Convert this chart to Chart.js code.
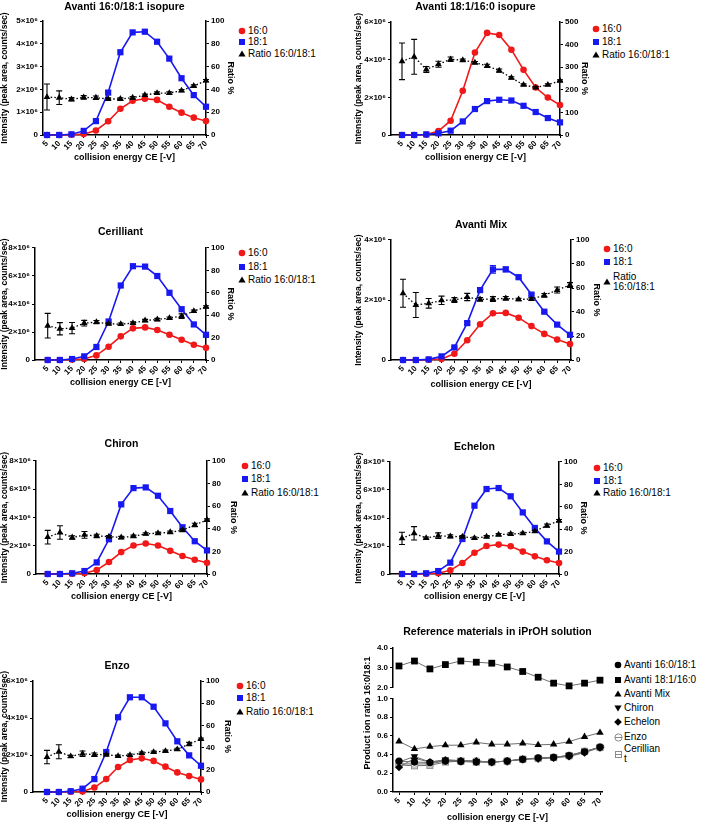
<!DOCTYPE html>
<html>
<head>
<meta charset="utf-8">
<script src="https://cdn.jsdelivr.net/npm/chart.js@4.4.1/dist/chart.umd.min.js"></script>
<style>
  html, body { margin: 0; padding: 0; background: #fff; }
  body { width: 709px; height: 823px; position: relative; overflow: hidden; font-family: 'Liberation Sans', Arial, sans-serif; }
  canvas { position: absolute; }
  .lg { position: absolute; font-size: 10px; line-height: 10px; color: #000; white-space: nowrap; }
</style>
</head>
<body>
<script>
// collision energies (x axis)
const ce = [5, 10, 15, 20, 25, 30, 35, 40, 45, 50, 55, 60, 65, 70];

// intensities in 10^6 counts/sec, ratios in %
const isoA_160 = [0, 0, 0.01, 0.04, 0.2, 0.6, 1.15, 1.5, 1.59, 1.54, 1.24, 0.98, 0.76, 0.61];
const isoA_181 = [0, 0, 0.03, 0.18, 0.61, 1.86, 3.63, 4.5, 4.53, 4.09, 3.35, 2.49, 1.75, 1.24];
const isoA_ratio = [33.3, 32.7, 31.3, 33, 32.7, 31.6, 31.6, 32.7, 35, 36.8, 36.8, 38.9, 43, 47.7];
const isoA_ratioErr = [11.4, 6, 1.5, 1.5, 1.5, 1, 1, 1, 1, 1, 1, 1, 1, 1];

const isoB_160 = [0, 0, 0.02, 0.21, 0.76, 2.35, 4.38, 5.42, 5.31, 4.53, 3.46, 2.52, 1.99, 1.59];
const isoB_181 = [0, 0, 0.03, 0.09, 0.23, 0.72, 1.38, 1.8, 1.87, 1.83, 1.55, 1.22, 0.9, 0.67];
const isoB_ratio = [326, 346, 290, 313, 335, 331, 320, 306, 285, 253, 222, 210, 222, 240];
const isoB_ratioErr = [81, 77, 13, 13, 10, 5, 5, 7, 7, 5, 4, 4, 4, 4];

const ceril_160 = [0, 0, 0.03, 0.07, 0.33, 0.95, 1.69, 2.26, 2.33, 2.14, 1.8, 1.45, 1.09, 0.88];
const ceril_181 = [0, 0, 0.07, 0.26, 0.93, 2.75, 5.32, 6.7, 6.67, 6.0, 4.8, 3.63, 2.54, 1.8];
const ceril_ratio = [30.6, 27.9, 28.5, 32.9, 33.8, 32.3, 32, 33, 35.3, 36.2, 37.4, 39.2, 43.6, 47.5];
const ceril_ratioErr = [11, 5.5, 5, 2.5, 1.5, 1, 1, 1, 1, 1, 1, 2, 1, 1];

const mix_160 = [0, 0, 0.01, 0.03, 0.21, 0.66, 1.19, 1.56, 1.57, 1.41, 1.13, 0.87, 0.68, 0.53];
const mix_181 = [0, 0, 0.02, 0.12, 0.42, 1.23, 2.33, 3.02, 3.02, 2.76, 2.18, 1.61, 1.18, 0.84];
const mix_181Err = [0, 0, 0, 0, 0.03, 0.05, 0.06, 0.13, 0.08, 0.05, 0.04, 0.03, 0.02, 0.02];
const mix_ratio = [55.6, 45.8, 47.2, 49.7, 50, 52.5, 50.5, 50.8, 51.4, 50.5, 50.8, 53.9, 58.3, 62.5];
const mix_ratioErr = [11.7, 10.4, 4, 3.5, 2, 3, 1.5, 2, 1.5, 1, 1, 1.5, 2.5, 2];

const chiron_160 = [0, 0, 0.02, 0.05, 0.28, 0.85, 1.55, 2.02, 2.16, 2.02, 1.64, 1.27, 1.01, 0.8];
const chiron_181 = [0, 0, 0.05, 0.21, 0.82, 2.46, 4.93, 6.08, 6.13, 5.54, 4.46, 3.31, 2.32, 1.67];
const chiron_ratio = [32.6, 36.7, 32.3, 34.6, 33.7, 33.1, 32.3, 33.4, 35.5, 36.1, 37, 38.7, 43.4, 47.8];
const chiron_ratioErr = [6, 6, 1.5, 3, 1.5, 1, 1, 1, 1, 1, 1, 1, 1.5, 1];

const echelon_160 = [0, 0, 0.02, 0.05, 0.26, 0.79, 1.52, 2.0, 2.1, 1.98, 1.6, 1.26, 0.98, 0.79];
const echelon_181 = [0, 0, 0.05, 0.21, 0.81, 2.5, 4.88, 6.07, 6.14, 5.55, 4.4, 3.29, 2.33, 1.6];
const echelon_ratio = [31.8, 36.3, 32.1, 34.2, 33.6, 33.3, 32.1, 33.3, 35.1, 35.7, 36.3, 38.1, 43.2, 47.6];
const echelon_ratioErr = [5.5, 6, 1, 2.5, 1.5, 1, 1, 1, 1, 1, 1, 1, 1.5, 1];

const enzo_160 = [0, 0, 0.02, 0.03, 0.24, 0.7, 1.35, 1.73, 1.82, 1.68, 1.37, 1.06, 0.86, 0.68];
const enzo_181 = [0, 0, 0.04, 0.18, 0.7, 2.16, 4.04, 5.12, 5.12, 4.61, 3.71, 2.74, 1.98, 1.42];
const enzo_ratio = [31.5, 36.3, 32.1, 34.5, 33.6, 33.6, 32.4, 33.3, 35.1, 36, 36.9, 38.4, 43.2, 47.7];
const enzo_ratioErr = [6, 6.3, 1, 2.5, 1.5, 1, 1, 1, 1, 1, 1, 1, 1.5, 1];

// product ion ratio 16:0/18:1 (reference materials in iPrOH)
const ref_avanti1 = [0.33, 0.32, 0.315, 0.33, 0.325, 0.32, 0.32, 0.33, 0.35, 0.365, 0.37, 0.39, 0.43, 0.48];
const ref_avanti2 = [3.09, 3.34, 2.94, 3.16, 3.34, 3.28, 3.23, 3.04, 2.81, 2.52, 2.22, 2.08, 2.22, 2.37];
const ref_mix = [0.54, 0.46, 0.485, 0.5, 0.5, 0.53, 0.51, 0.51, 0.52, 0.503, 0.51, 0.538, 0.59, 0.634];
const ref_chiron = [0.32, 0.38, 0.32, 0.345, 0.335, 0.33, 0.32, 0.33, 0.355, 0.36, 0.37, 0.39, 0.43, 0.48];
const ref_echelon = [0.265, 0.36, 0.32, 0.34, 0.335, 0.33, 0.32, 0.33, 0.35, 0.355, 0.365, 0.38, 0.42, 0.475];
const ref_enzo = [0.3, 0.3, 0.3, 0.335, 0.33, 0.33, 0.32, 0.33, 0.35, 0.36, 0.37, 0.385, 0.43, 0.48];
const ref_ceril = [0.29, 0.28, 0.285, 0.32, 0.33, 0.32, 0.32, 0.33, 0.35, 0.36, 0.37, 0.39, 0.435, 0.475];

Chart.defaults.font.family = "'Liberation Sans', Arial, sans-serif";
Chart.defaults.color = '#000';
Chart.defaults.animation = false;

const RED = '#f01818', BLUE = '#1818f0';
const LH = 1.2;
const fTitle = 10.5, fLeft = 8.5, fRight = 9, fX = 9;

const toXY = vals => ce.map((x, i) => ({x: x, y: vals[i]}));

// error bars drawn under each dataset, through its own y scale
const errorBars = {
  id: 'errorBars',
  beforeDatasetDraw(chart, args) {
    const ds = chart.data.datasets[args.index];
    if (!ds.errors) return;
    const meta = args.meta;
    const ys = chart.scales[meta.yAxisID];
    const ctx = chart.ctx;
    ctx.save();
    ctx.strokeStyle = ds.borderColor;
    ctx.lineWidth = 1.1;
    meta.data.forEach((pt, i) => {
      const e = ds.errors[i];
      if (!e) return;
      const v = ds.data[i].y;
      const y1 = ys.getPixelForValue(v + e), y2 = ys.getPixelForValue(v - e);
      ctx.beginPath();
      ctx.moveTo(pt.x, y1); ctx.lineTo(pt.x, y2);
      ctx.moveTo(pt.x - 3, y1); ctx.lineTo(pt.x + 3, y1);
      ctx.moveTo(pt.x - 3, y2); ctx.lineTo(pt.x + 3, y2);
      ctx.stroke();
    });
    ctx.restore();
  }
};

function frame(g, hasRight) {
  const cl = Math.floor(g.lx - fLeft * LH / 2);
  const ct = Math.floor(g.ty - fTitle * LH / 2);
  const cr = hasRight ? Math.ceil(g.rx + fRight * LH / 2) : g.R + 6;
  const cb = Math.ceil(g.xy + fX * LH / 2);
  return {
    cl, ct, cr, cb,
    leftPad: g.lx - fLeft * LH / 2 - cl,
    titleTop: g.ty - fTitle * LH / 2 - ct,
    titleBottom: g.T - g.ty - fTitle * LH / 2,
    rightPad: hasRight ? cr - g.rx - fRight * LH / 2 : 0,
    xPad: cb - g.xy - fX * LH / 2,
    lw: g.L - cl, rw: cr - g.R, xh: cb - g.B
  };
}

function newCanvas(c) {
  const cv = document.createElement('canvas');
  cv.width = c.cr - c.cl;
  cv.height = c.cb - c.ct;
  cv.style.left = c.cl + 'px';
  cv.style.top = c.ct + 'px';
  document.body.appendChild(cv);
  return cv;
}

function xAxis(g, c) {
  const ppu = (g.x70 - g.x5) / 65;
  return {
    type: 'linear', position: 'bottom',
    min: 5 - (g.x5 - g.L) / ppu,
    max: 70 + (g.R - g.x70) / ppu,
    afterBuildTicks: s => { s.ticks = ce.map(v => ({value: v})); },
    afterFit: s => { s.height = c.xh; },
    ticks: {autoSkip: false, minRotation: 45, maxRotation: 45, padding: 1,
      font: {size: 8, weight: 'bold'}, callback: v => String(v)},
    grid: {drawOnChartArea: false, tickLength: 3, color: '#000', lineWidth: 1},
    border: {color: '#000', width: 1.5},
    title: {display: true, text: 'collision energy CE [-V]', font: {size: fX, weight: 'bold'},
      padding: {top: 0, bottom: c.xPad}}
  };
}

function titleOpts(text, c) {
  return {display: true, text: text, fullSize: false, font: {size: fTitle, weight: 'bold'},
    padding: {top: c.titleTop, bottom: c.titleBottom}};
}

// small canvases for legend markers
function drawShape(ctx, style, x, y, color) {
  ctx.fillStyle = color;
  ctx.beginPath();
  if (style === 'circle') ctx.arc(x, y, 3.3, 0, Math.PI * 2);
  else if (style === 'rect') ctx.rect(x - 3, y - 3, 6, 6);
  else if (style === 'triangle') { ctx.moveTo(x, y - 3.6); ctx.lineTo(x + 3.6, y + 2.6); ctx.lineTo(x - 3.6, y + 2.6); ctx.closePath(); }
  else if (style === 'triangleDown') { ctx.moveTo(x, y + 3.6); ctx.lineTo(x + 3.6, y - 2.6); ctx.lineTo(x - 3.6, y - 2.6); ctx.closePath(); }
  else if (style === 'diamond') { ctx.moveTo(x, y - 3.8); ctx.lineTo(x + 3.8, y); ctx.lineTo(x, y + 3.8); ctx.lineTo(x - 3.8, y); ctx.closePath(); }
  ctx.fill();
}

function openMarker(shape) {
  const cv = document.createElement('canvas');
  cv.width = 9; cv.height = 9;
  const x = cv.getContext('2d');
  x.strokeStyle = '#8a8a8a'; x.fillStyle = '#fff'; x.lineWidth = 1;
  if (shape === 'circle') { x.beginPath(); x.arc(4.5, 4.5, 3.6, 0, Math.PI * 2); x.fill(); x.stroke(); }
  else { x.fillRect(1, 1, 7, 7); x.strokeRect(1.5, 1.5, 6, 6); }
  x.beginPath(); x.moveTo(1, 4.5); x.lineTo(8, 4.5); x.stroke();
  return cv;
}

function addLegend(x, rows) {
  rows.forEach(r => {
    let m;
    if (r.img) {
      m = r.img;
    } else {
      m = document.createElement('canvas');
      m.width = 10; m.height = 10;
      drawShape(m.getContext('2d'), r.style, 5, 5, r.color);
    }
    m.style.left = (x - m.width / 2) + 'px';
    m.style.top = (r.y - m.height / 2) + 'px';
    document.body.appendChild(m);
    const t = document.createElement('div');
    t.className = 'lg';
    t.innerHTML = r.label;
    t.style.left = (x + 6) + 'px';
    const lines = r.label.split('<br>').length;
    t.style.top = (r.y - 5 * lines) + 'px';
    document.body.appendChild(t);
  });
}

const panels = [
  {title: 'Avanti 16:0/18:1 isopure', c160: isoA_160, c181: isoA_181, ratio: isoA_ratio, ratioErr: isoA_ratioErr,
   lmax: 5, lstep: 1, rmax: 100, rstep: 20,
   g: {L: 43, T: 21, R: 206, B: 135, ty: 7, lx: 5, rx: 230, xy: 158, x5: 47, x70: 206},
   lg: {x: 242, y: [31, 42, 54]}},
  {title: 'Avanti 18:1/16:0 isopure', c160: isoB_160, c181: isoB_181, ratio: isoB_ratio, ratioErr: isoB_ratioErr,
   lmax: 6, lstep: 2, rmax: 500, rstep: 100,
   g: {L: 391, T: 22, R: 560, B: 135, ty: 7, lx: 359, rx: 584, xy: 158, x5: 402, x70: 560},
   lg: {x: 596, y: [29, 42, 55]}},
  {title: 'Cerilliant', c160: ceril_160, c181: ceril_181, ratio: ceril_ratio, ratioErr: ceril_ratioErr,
   lmax: 8, lstep: 2, rmax: 100, rstep: 20,
   g: {L: 35, T: 248, R: 206, B: 360, ty: 232, lx: 5, rx: 230, xy: 383, x5: 47.7, x70: 206},
   lg: {x: 242, y: [253, 267, 280]}},
  {title: 'Avanti Mix', c160: mix_160, c181: mix_181, c181Err: mix_181Err, ratio: mix_ratio, ratioErr: mix_ratioErr,
   lmax: 4, lstep: 2, rmax: 100, rstep: 20,
   g: {L: 391, T: 240, R: 571, B: 360, ty: 225, lx: 359, rx: 596, xy: 385, x5: 403, x70: 570},
   lg: {x: 607, y: [249, 262, 282]}, ratioLabel: 'Ratio<br>16:0/18:1'},
  {title: 'Chiron', c160: chiron_160, c181: chiron_181, ratio: chiron_ratio, ratioErr: chiron_ratioErr,
   lmax: 8, lstep: 2, rmax: 100, rstep: 20,
   g: {L: 36, T: 461, R: 207, B: 574, ty: 444, lx: 5, rx: 233, xy: 597, x5: 47.7, x70: 207},
   lg: {x: 245, y: [466, 479, 493]}},
  {title: 'Echelon', c160: echelon_160, c181: echelon_181, ratio: echelon_ratio, ratioErr: echelon_ratioErr,
   lmax: 8, lstep: 2, rmax: 100, rstep: 20,
   g: {L: 390, T: 462, R: 559, B: 574, ty: 447, lx: 359, rx: 583, xy: 597, x5: 402, x70: 559},
   lg: {x: 597, y: [468, 481, 493]}},
  {title: 'Enzo', c160: enzo_160, c181: enzo_181, ratio: enzo_ratio, ratioErr: enzo_ratioErr,
   lmax: 6, lstep: 2, rmax: 100, rstep: 20,
   g: {L: 33, T: 681, R: 201, B: 792, ty: 666, lx: 5, rx: 227, xy: 815, x5: 47, x70: 201},
   lg: {x: 240, y: [686, 698, 712]}}
];

panels.forEach(p => {
  const g = p.g;
  const c = frame(g, true);
  const cv = newCanvas(c);
  new Chart(cv, {
    type: 'line',
    data: {
      datasets: [
        {label: 'Ratio 16:0/18:1', data: toXY(p.ratio), errors: p.ratioErr, yAxisID: 'y2',
         borderColor: '#000', backgroundColor: '#000', borderWidth: 1.3, borderDash: [1.5, 2.2],
         pointStyle: 'triangle', pointRadius: 3.9, pointBorderWidth: 0, clip: false},
        {label: '18:1', data: toXY(p.c181), errors: p.c181Err, yAxisID: 'y',
         borderColor: BLUE, backgroundColor: BLUE, borderWidth: 1.6,
         pointStyle: 'rect', pointRadius: 4.4, pointBorderWidth: 0, clip: false},
        {label: '16:0', data: toXY(p.c160), yAxisID: 'y',
         borderColor: RED, backgroundColor: RED, borderWidth: 1.6,
         pointStyle: 'circle', pointRadius: 3.3, pointBorderWidth: 0, clip: false}
      ]
    },
    options: {
      responsive: false, devicePixelRatio: 1, animation: false,
      layout: {padding: 0},
      plugins: {legend: {display: false}, tooltip: {enabled: false}, title: titleOpts(p.title, c)},
      scales: {
        x: xAxis(g, c),
        y: {
          position: 'left', min: 0, max: p.lmax,
          afterFit: s => { s.width = c.lw; },
          ticks: {stepSize: p.lstep, padding: 2, font: {size: 8, weight: 'bold'},
            callback: v => v === 0 ? '0' : v + '×10⁶'},
          grid: {drawOnChartArea: false, tickLength: 3, color: '#000'},
          border: {color: '#000', width: 1.5},
          title: {display: true, text: 'Intensity (peak area, counts/sec)', font: {size: fLeft, weight: 'bold'},
            padding: {top: c.leftPad, bottom: 0}}
        },
        y2: {
          position: 'right', min: 0, max: p.rmax,
          afterFit: s => { s.width = c.rw; },
          ticks: {stepSize: p.rstep, padding: 2, font: {size: 8, weight: 'bold'}},
          grid: {drawOnChartArea: false, tickLength: 3, color: '#000'},
          border: {color: '#000', width: 1.5},
          title: {display: true, text: 'Ratio %', font: {size: fRight, weight: 'bold'},
            padding: {top: c.rightPad, bottom: 0}}
        }
      }
    },
    plugins: [errorBars]
  });
  addLegend(p.lg.x, [
    {y: p.lg.y[0], style: 'circle', color: RED, label: '16:0'},
    {y: p.lg.y[1], style: 'rect', color: BLUE, label: '18:1'},
    {y: p.lg.y[2], style: 'triangle', color: '#000', label: p.ratioLabel || 'Ratio 16:0/18:1'}
  ]);
});

// summary panel with broken y axis (stacked scales)
const sideTitle = {
  id: 'sideTitle',
  afterDraw(chart, args, o) {
    const {ctx, chartArea} = chart;
    ctx.save();
    ctx.translate(o.x, (chartArea.top + chartArea.bottom) / 2 + o.dy);
    ctx.rotate(-Math.PI / 2);
    ctx.font = "bold 9px 'Liberation Sans', Arial, sans-serif";
    ctx.fillStyle = '#000';
    ctx.textAlign = 'center';
    ctx.textBaseline = 'middle';
    ctx.fillText(o.text, 0, 0);
    ctx.restore();
  }
};

const g8 = {L: 393, T: 648, R: 602, B: 792, ty: 632, lx: 368, xy: 818, x5: 399, x70: 600};
const c8 = frame(g8, false);
c8.cl = 360; c8.lw = g8.L - c8.cl;
const cv8 = newCanvas(c8);
const enzoMark = openMarker('circle'), cerilMark = openMarker('rect');
const refLine = {borderColor: '#6e6e6e', borderWidth: 1, pointBackgroundColor: '#000',
  pointBorderColor: '#000', pointBorderWidth: 0, clip: false};
const yPart = (min, max, step, weight) => ({
  position: 'left', stack: 'ratio', stackWeight: weight, min, max,
  afterFit: s => { s.width = c8.lw; },
  ticks: {stepSize: step, padding: 2, font: {size: 8, weight: 'bold'}, callback: v => v.toFixed(1)},
  grid: {drawOnChartArea: false, tickLength: 3, color: '#000'},
  border: {color: '#000', width: 1.5}
});
new Chart(cv8, {
  type: 'line',
  data: {
    datasets: [
      Object.assign({label: 'Avanti 16:0/18:1', data: toXY(ref_avanti1), yAxisID: 'yBot', pointStyle: 'circle', pointRadius: 3.6}, refLine),
      Object.assign({label: 'Avanti 18:1/16:0', data: toXY(ref_avanti2), yAxisID: 'yTop', pointStyle: 'rect', pointRadius: 4.8}, refLine),
      Object.assign({label: 'Avanti Mix', data: toXY(ref_mix), yAxisID: 'yBot', pointStyle: 'triangle', pointRadius: 4.3}, refLine),
      Object.assign({label: 'Chiron', data: toXY(ref_chiron), yAxisID: 'yBot', pointStyle: 'triangle', pointRotation: 180, pointRadius: 4.3}, refLine),
      Object.assign({label: 'Echelon', data: toXY(ref_echelon), yAxisID: 'yBot', pointStyle: 'rectRot', pointRadius: 4}, refLine),
      Object.assign({label: 'Enzo', data: toXY(ref_enzo), yAxisID: 'yBot', pointStyle: enzoMark}, refLine),
      Object.assign({label: 'Cerilliant', data: toXY(ref_ceril), yAxisID: 'yBot', pointStyle: cerilMark}, refLine)
    ]
  },
  options: {
    responsive: false, devicePixelRatio: 1, animation: false,
    layout: {padding: {right: 6}},
    plugins: {
      legend: {display: false}, tooltip: {enabled: false},
      title: titleOpts('Reference materials in iPrOH solution', c8),
      sideTitle: {text: 'Product ion ratio 16:0/18:1', x: g8.lx - c8.cl, dy: -7}
    },
    scales: {
      x: xAxis(g8, c8),
      yBot: yPart(0, 1, 0.2, 282),
      yGap: {position: 'left', stack: 'ratio', stackWeight: 33, min: 0, max: 1,
        afterFit: s => { s.width = c8.lw; },
        ticks: {display: false}, grid: {display: false}, border: {display: false}},
      yTop: yPart(2, 4, 1, 119)
    }
  },
  plugins: [sideTitle]
});

addLegend(618, [
  {y: 665, style: 'circle', color: '#000', label: 'Avanti 16:0/18:1'},
  {y: 680, style: 'rect', color: '#000', label: 'Avanti 18:1/16:0'},
  {y: 694, style: 'triangle', color: '#000', label: 'Avanti Mix'},
  {y: 708, style: 'triangleDown', color: '#000', label: 'Chiron'},
  {y: 722, style: 'diamond', color: '#000', label: 'Echelon'},
  {y: 737, img: openMarker('circle'), label: 'Enzo'},
  {y: 754, img: openMarker('rect'), label: 'Cerillian<br>t'}
]);
</script>
</body>
</html>
